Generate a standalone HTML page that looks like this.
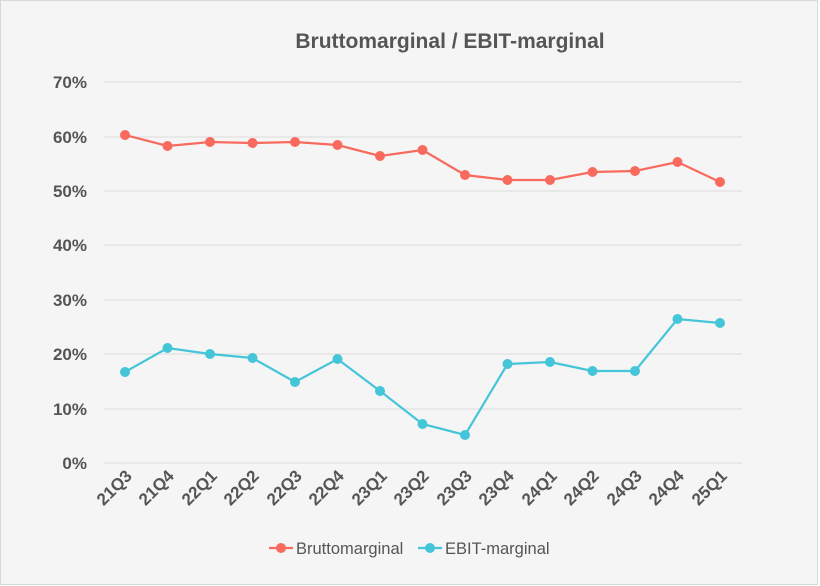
<!DOCTYPE html>
<html><head><style>
html,body{margin:0;padding:0;background:#fff;}
svg{display:block;font-family:"Liberation Sans",sans-serif;}
</style></head><body>
<svg width="820" height="586" viewBox="0 0 820 586">
<rect x="0.5" y="0.5" width="817" height="584" fill="#f5f5f5" stroke="#d9d9d9"/>
<text x="450" y="48" text-anchor="middle" font-size="21" font-weight="bold" fill="#555">Bruttomarginal / EBIT-marginal</text>
<g stroke="#e4e4e4" stroke-width="1.5">
<line x1="104" x2="742" y1="463" y2="463"/>
<line x1="104" x2="742" y1="409" y2="409"/>
<line x1="104" x2="742" y1="354" y2="354"/>
<line x1="104" x2="742" y1="300" y2="300"/>
<line x1="104" x2="742" y1="245" y2="245"/>
<line x1="104" x2="742" y1="191" y2="191"/>
<line x1="104" x2="742" y1="137" y2="137"/>
<line x1="104" x2="742" y1="82" y2="82"/>
</g>
<g font-size="17" font-weight="bold" fill="#555" text-anchor="end">
<text x="87" y="469">0%</text>
<text x="87" y="415">10%</text>
<text x="87" y="360">20%</text>
<text x="87" y="306">30%</text>
<text x="87" y="251">40%</text>
<text x="87" y="197">50%</text>
<text x="87" y="143">60%</text>
<text x="87" y="88">70%</text>
</g>
<g font-size="17" font-weight="bold" fill="#555" text-anchor="end">
<text transform="translate(133,477) rotate(-45)">21Q3</text>
<text transform="translate(175,477) rotate(-45)">21Q4</text>
<text transform="translate(218,477) rotate(-45)">22Q1</text>
<text transform="translate(260,477) rotate(-45)">22Q2</text>
<text transform="translate(303,477) rotate(-45)">22Q3</text>
<text transform="translate(345,477) rotate(-45)">22Q4</text>
<text transform="translate(388,477) rotate(-45)">23Q1</text>
<text transform="translate(430,477) rotate(-45)">23Q2</text>
<text transform="translate(473,477) rotate(-45)">23Q3</text>
<text transform="translate(515,477) rotate(-45)">23Q4</text>
<text transform="translate(558,477) rotate(-45)">24Q1</text>
<text transform="translate(600,477) rotate(-45)">24Q2</text>
<text transform="translate(643,477) rotate(-45)">24Q3</text>
<text transform="translate(685,477) rotate(-45)">24Q4</text>
<text transform="translate(728,477) rotate(-45)">25Q1</text>
</g>
<g fill="none" stroke-width="2.2">
<polyline stroke="#f96a5e" points="125,135 167.5,146 210,142 252.5,143 295,142 337.5,145 380,156 422.5,150 465,175 507.5,180 550,180 592.5,172 635,171 677.5,162 720,182"/>
<polyline stroke="#45c5d8" points="125,372 167.5,348 210,354 252.5,358 295,382 337.5,359 380,391 422.5,424 465,435 507.5,364 550,362 592.5,371 635,371 677.5,319 720,323"/>
</g>
<g fill="#f96a5e">
<circle cx="125" cy="135" r="5"/><circle cx="167.5" cy="146" r="5"/><circle cx="210" cy="142" r="5"/><circle cx="252.5" cy="143" r="5"/><circle cx="295" cy="142" r="5"/><circle cx="337.5" cy="145" r="5"/><circle cx="380" cy="156" r="5"/><circle cx="422.5" cy="150" r="5"/><circle cx="465" cy="175" r="5"/><circle cx="507.5" cy="180" r="5"/><circle cx="550" cy="180" r="5"/><circle cx="592.5" cy="172" r="5"/><circle cx="635" cy="171" r="5"/><circle cx="677.5" cy="162" r="5"/><circle cx="720" cy="182" r="5"/>
</g>
<g fill="#45c5d8">
<circle cx="125" cy="372" r="5"/><circle cx="167.5" cy="348" r="5"/><circle cx="210" cy="354" r="5"/><circle cx="252.5" cy="358" r="5"/><circle cx="295" cy="382" r="5"/><circle cx="337.5" cy="359" r="5"/><circle cx="380" cy="391" r="5"/><circle cx="422.5" cy="424" r="5"/><circle cx="465" cy="435" r="5"/><circle cx="507.5" cy="364" r="5"/><circle cx="550" cy="362" r="5"/><circle cx="592.5" cy="371" r="5"/><circle cx="635" cy="371" r="5"/><circle cx="677.5" cy="319" r="5"/><circle cx="720" cy="323" r="5"/>
</g>
<line x1="269" x2="293" y1="548" y2="548" stroke="#f96a5e" stroke-width="2.2"/>
<circle cx="281" cy="548" r="5" fill="#f96a5e"/>
<text x="296" y="554" font-size="16.5" fill="#555">Bruttomarginal</text>
<line x1="418" x2="442" y1="548" y2="548" stroke="#45c5d8" stroke-width="2.2"/>
<circle cx="430" cy="548" r="5" fill="#45c5d8"/>
<text x="445" y="554" font-size="16.5" fill="#555">EBIT-marginal</text>
</svg>
</body></html>
